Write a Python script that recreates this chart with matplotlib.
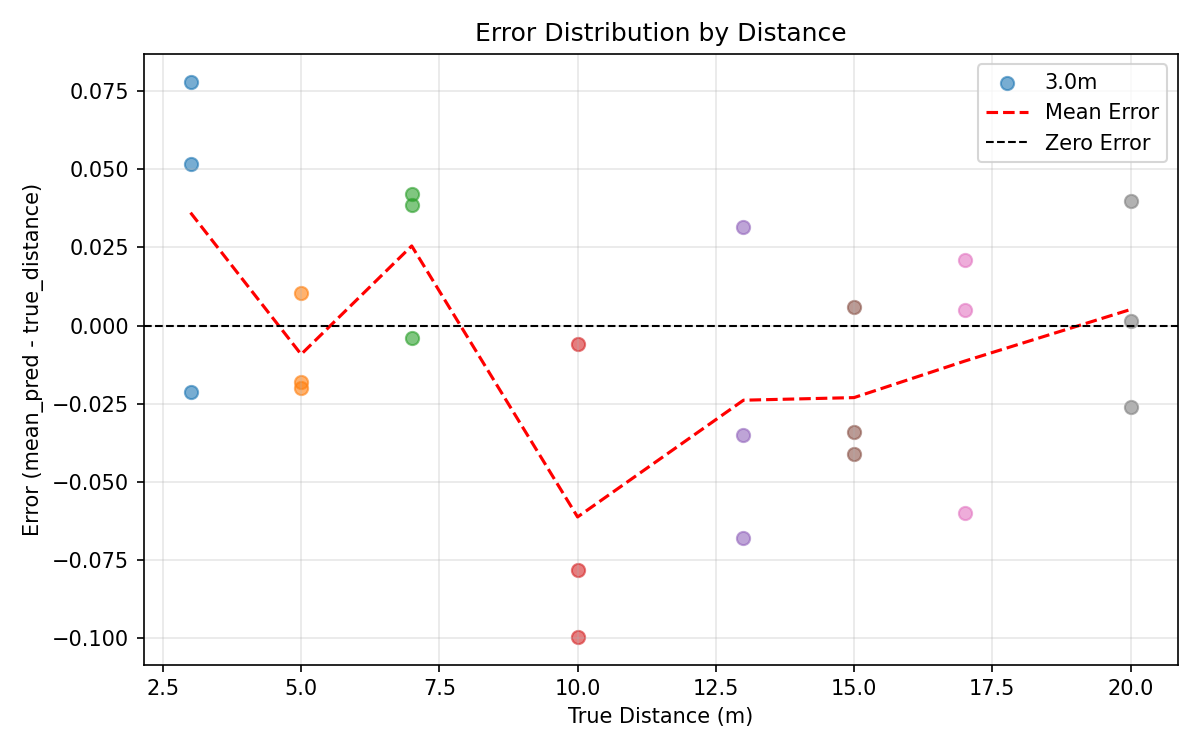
import numpy as np
import matplotlib.pyplot as plt

distances = [3.0, 5.0, 7.0, 10.0, 13.0, 15.0, 17.0, 20.0]
errors = [
    [0.078, 0.0517, -0.0213],
    [0.0105, -0.018, -0.020],
    [0.042, 0.0385, -0.004],
    [-0.006, -0.078, -0.0995],
    [0.0315, -0.035, -0.068],
    [0.006, -0.034, -0.041],
    [0.021, 0.005, -0.060],
    [0.040, 0.0015, -0.026],
]

fig, ax = plt.subplots(figsize=(8, 5), dpi=150)
for i, (d, e) in enumerate(zip(distances, errors)):
    ax.scatter([d] * len(e), e, alpha=0.6, s=40, color='C%d' % i,
               label=f'{d}m' if i == 0 else None)
means = [np.mean(e) for e in errors]
ax.plot(distances, means, 'r--', label='Mean Error')
ax.axhline(0, color='black', linestyle='--', linewidth=1, label='Zero Error')
ax.set_xlabel('True Distance (m)')
ax.set_ylabel('Error (mean_pred - true_distance)')
ax.set_title('Error Distribution by Distance')
ax.grid(True, alpha=0.3)
ax.legend(loc='upper right')
fig.tight_layout()
fig.savefig('out.png')
